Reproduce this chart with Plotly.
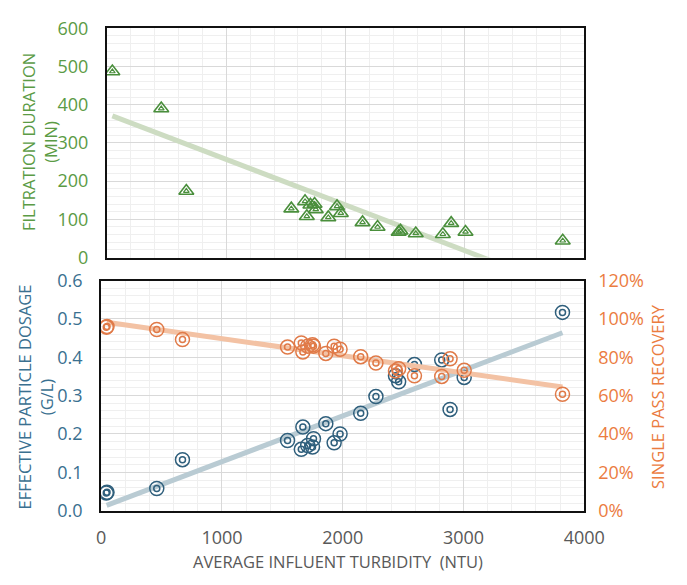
import plotly.graph_objects as go

W, H = 687, 585

# ---- data ----
turb_top = [45, 455, 665, 1545, 1660, 1675, 1705, 1740, 1750, 1855, 1928, 1960,
            2142, 2268, 2445, 2460, 2588, 2815, 2885, 3005, 3820]
duration = [487, 390, 174, 128, 147, 108, 138, 140, 126, 105, 134, 116,
            92, 80, 67, 70, 63, 61, 90, 67, 44]
dur_trend_x = [45, 3820]
dur_trend_y = [371, -80]

turb_bot = [42, 48, 460, 673, 1543, 1657, 1670, 1710, 1750, 1758, 1860, 1929, 1978,
            2149, 2275, 2437, 2463, 2594, 2820, 2889, 3006, 3820]
dosage = [0.046, 0.048, 0.058, 0.133, 0.183, 0.160, 0.218, 0.170, 0.166, 0.1875, 0.227,
          0.177, 0.200, 0.254, 0.2975, 0.352, 0.336, 0.381, 0.393, 0.264, 0.3475, 0.517]
recovery = [0.957, 0.96, 0.945, 0.892, 0.853, 0.875, 0.828, 0.858, 0.865, 0.858, 0.82,
            0.858, 0.842, 0.803, 0.77, 0.728, 0.74, 0.703, 0.70, 0.792, 0.732, 0.607]
dos_trend_x = [45, 3820]
dos_trend_y = [0.014, 0.464]
rec_trend_x = [45, 3820]
rec_trend_y = [0.983, 0.645]

x_ticks = [0, 1000, 2000, 3000, 4000]

GREEN_T = "#5b9b45"
GREEN_M = "#4a8f3c"
GREEN_L = "#cddcc2"
BLUE_T = "#3a7090"
BLUE_M = "#2f5f7c"
BLUE_L = "#b9cbd3"
ORANGE_T = "#eb7c3f"
ORANGE_M = "#e07a48"
ORANGE_L = "#f3c2a4"
FONT = "Open Sans"
TICK = 18
TITLE = 16.5

fig = go.Figure()

# top panel
fig.add_trace(go.Scatter(x=dur_trend_x, y=dur_trend_y, mode="lines",
                         line=dict(color=GREEN_L, width=5), xaxis="x", yaxis="y",
                         showlegend=False, hoverinfo="skip"))
fig.add_trace(go.Scatter(x=turb_top, y=duration, mode="markers",
                         marker=dict(symbol="triangle-up-open", size=13, color=GREEN_M,
                                     line=dict(width=1.6, color=GREEN_M)),
                         xaxis="x", yaxis="y", showlegend=False))
fig.add_trace(go.Scatter(x=turb_top, y=duration, mode="markers",
                         marker=dict(symbol="triangle-up-open", size=5, color=GREEN_M,
                                     line=dict(width=1.2, color=GREEN_M)),
                         xaxis="x", yaxis="y", showlegend=False))

# bottom panel
fig.add_trace(go.Scatter(x=rec_trend_x, y=rec_trend_y, mode="lines",
                         line=dict(color=ORANGE_L, width=5), xaxis="x2", yaxis="y3",
                         showlegend=False, hoverinfo="skip"))
fig.add_trace(go.Scatter(x=dos_trend_x, y=dos_trend_y, mode="lines",
                         line=dict(color=BLUE_L, width=5), xaxis="x2", yaxis="y2",
                         showlegend=False, hoverinfo="skip"))
for sz, wd in [(14, 1.5), (6, 1.5)]:
    fig.add_trace(go.Scatter(x=turb_bot, y=dosage, mode="markers",
                             marker=dict(symbol="circle-open", size=sz, color=BLUE_M,
                                         line=dict(width=wd, color=BLUE_M)),
                             xaxis="x2", yaxis="y2", showlegend=False))
    fig.add_trace(go.Scatter(x=turb_bot, y=recovery, mode="markers",
                             marker=dict(symbol="circle-open", size=sz, color=ORANGE_M,
                                         line=dict(width=wd, color=ORANGE_M)),
                             xaxis="x2", yaxis="y3", showlegend=False))

def px_x(p):
    return p / W

def px_y(p):
    return 1 - p / H

common_x = dict(range=[0, 4000], tickvals=x_ticks, showgrid=True, gridcolor="#d9d9d9",
                gridwidth=1, minor=dict(dtick=200, showgrid=True, gridcolor="#efefef"),
                showline=True, linecolor="#111111", linewidth=2, mirror=True,
                zeroline=False, ticks="")

fig.update_layout(
    width=W, height=H, margin=dict(l=0, r=0, t=0, b=0),
    paper_bgcolor="white", plot_bgcolor="white",
    font=dict(family=FONT, size=TICK),
    xaxis=dict(domain=[px_x(106), px_x(602)], anchor="y", showticklabels=False, **common_x),
    yaxis=dict(domain=[px_y(255), px_y(16)], anchor="x", range=[0, 600], dtick=100,
               showgrid=True, gridcolor="#d9d9d9",
               minor=dict(dtick=20, showgrid=True, gridcolor="#efefef"),
               showline=True, linecolor="#111111", linewidth=2, mirror=True, zeroline=False,
               tickfont=dict(color=GREEN_T, size=TICK), ticklabelstandoff=13),
    xaxis2=dict(domain=[px_x(100), px_x(602)], anchor="y2",
                tickfont=dict(color="#595959", size=TICK), ticklabelstandoff=10, **common_x),
    yaxis2=dict(domain=[px_y(519), px_y(279)], anchor="x2", range=[0, 0.6], dtick=0.1,
                tickformat=".1f",
                showgrid=True, gridcolor="#d9d9d9",
                minor=dict(dtick=0.02, showgrid=True, gridcolor="#efefef"),
                showline=True, linecolor="#111111", linewidth=2, mirror=True, zeroline=False,
                tickfont=dict(color=BLUE_T, size=TICK), ticklabelstandoff=13),
    yaxis3=dict(anchor="x2", overlaying="y2", side="right", range=[0, 1.2], dtick=0.2,
                tickformat=".0%", showgrid=False, zeroline=False, showline=False,
                tickfont=dict(color=ORANGE_T, size=TICK), ticklabelstandoff=13),
)

ann = [
    dict(text="FILTRATION DURATION<br>(MIN)", x=px_x(36), y=px_y(135), textangle=-90,
         font=dict(color=GREEN_T, size=TITLE)),
    dict(text="EFFECTIVE PARTICLE DOSAGE<br>(G/L)", x=px_x(31), y=px_y(400), textangle=-90,
         font=dict(color=BLUE_T, size=TITLE)),
    dict(text="SINGLE PASS RECOVERY", x=px_x(678), y=px_y(400), textangle=-90,
         font=dict(color=ORANGE_T, size=TITLE)),
    dict(text="AVERAGE INFLUENT TURBIDITY  (NTU)", x=px_x(346), y=px_y(572),
         font=dict(color="#595959", size=TITLE)),
]
for a in ann:
    fig.add_annotation(xref="paper", yref="paper", showarrow=False,
                       xanchor="center", yanchor="middle", **a)

fig.write_html("out.html")
